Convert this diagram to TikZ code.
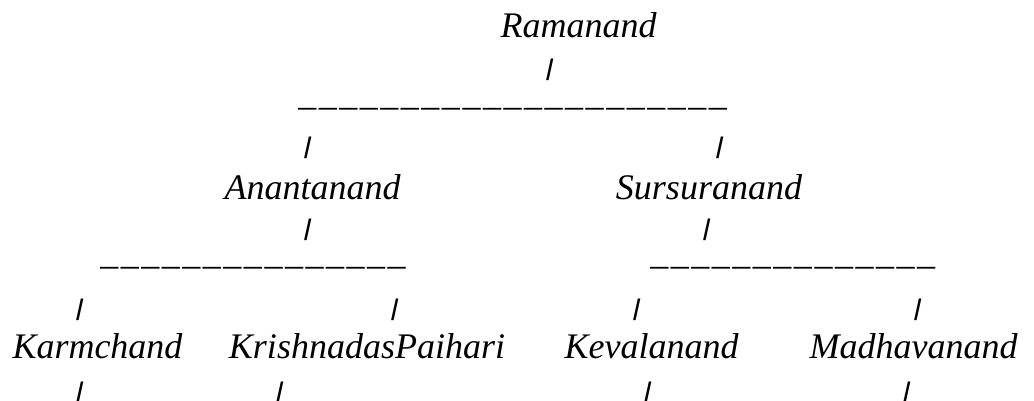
\documentclass[tikz,border=0pt]{standalone}
\usepackage{fontspec}
\setmainfont{Liberation Serif}
\newcommand{\us}{\_\kern1.9pt}
\newcommand{\usfive}{\us\us\us\us\us}
\begin{document}
\begin{tikzpicture}[x=0.75pt,y=-0.75pt,
  person/.style={anchor=base,inner sep=0pt,font=\fontsize{27}{27}\selectfont\itshape},
  barmark/.style={inner sep=0pt,xslant=0.22,font=\fontsize{27}{27}\selectfont\itshape\bfseries},
  rulerow/.style={anchor=base west,inner sep=0pt,font=\fontsize{27}{27}\selectfont\itshape}]
\useasboundingbox (0,0) rectangle (1034,400);
\newcommand{\vbar}{\scalebox{1}[0.66]{|}}
% names
\node[person] (ram) at (578.5,37) {Ramanand};
\node[person] (ana) at (312.5,199) {Anantanand};
\node[person] (sur) at (709,199) {Sursuranand};
\node[person] (kar) at (97.5,358) {Karmchand};
\node[person] (kri) at (367,358) {KrishnadasPaihari};
\node[person] (kev) at (651.5,358) {Kevalanand};
\node[person] (mad) at (913.5,358) {Madhavanand};
% underscore rows
\node[rulerow] (u1) at (298,105) {\usfive\usfive\usfive\usfive\_};
\node[rulerow] (u2) at (100,264) {\usfive\usfive\us\us\us\us\_};
\node[rulerow] (u3) at (650,264) {\usfive\usfive\us\us\us\_};
% bars
\node[barmark] (b0) at (550,70) {\vbar};
\node[barmark] (b1) at (308,148) {\vbar};
\node[barmark] (b2) at (720,148) {\vbar};
\node[barmark] (b3) at (308,230) {\vbar};
\node[barmark] (b4) at (707,230) {\vbar};
\node[barmark] (b5) at (80,310) {\vbar};
\node[barmark] (b6) at (395,310) {\vbar};
\node[barmark] (b7) at (637,310) {\vbar};
\node[barmark] (b8) at (918,310) {\vbar};
\node[barmark] (b9) at (80,393) {\vbar};
\node[barmark] (b10) at (280,393) {\vbar};
\node[barmark] (b11) at (648,393) {\vbar};
\node[barmark] (b12) at (907,393) {\vbar};
\end{tikzpicture}
\end{document}
